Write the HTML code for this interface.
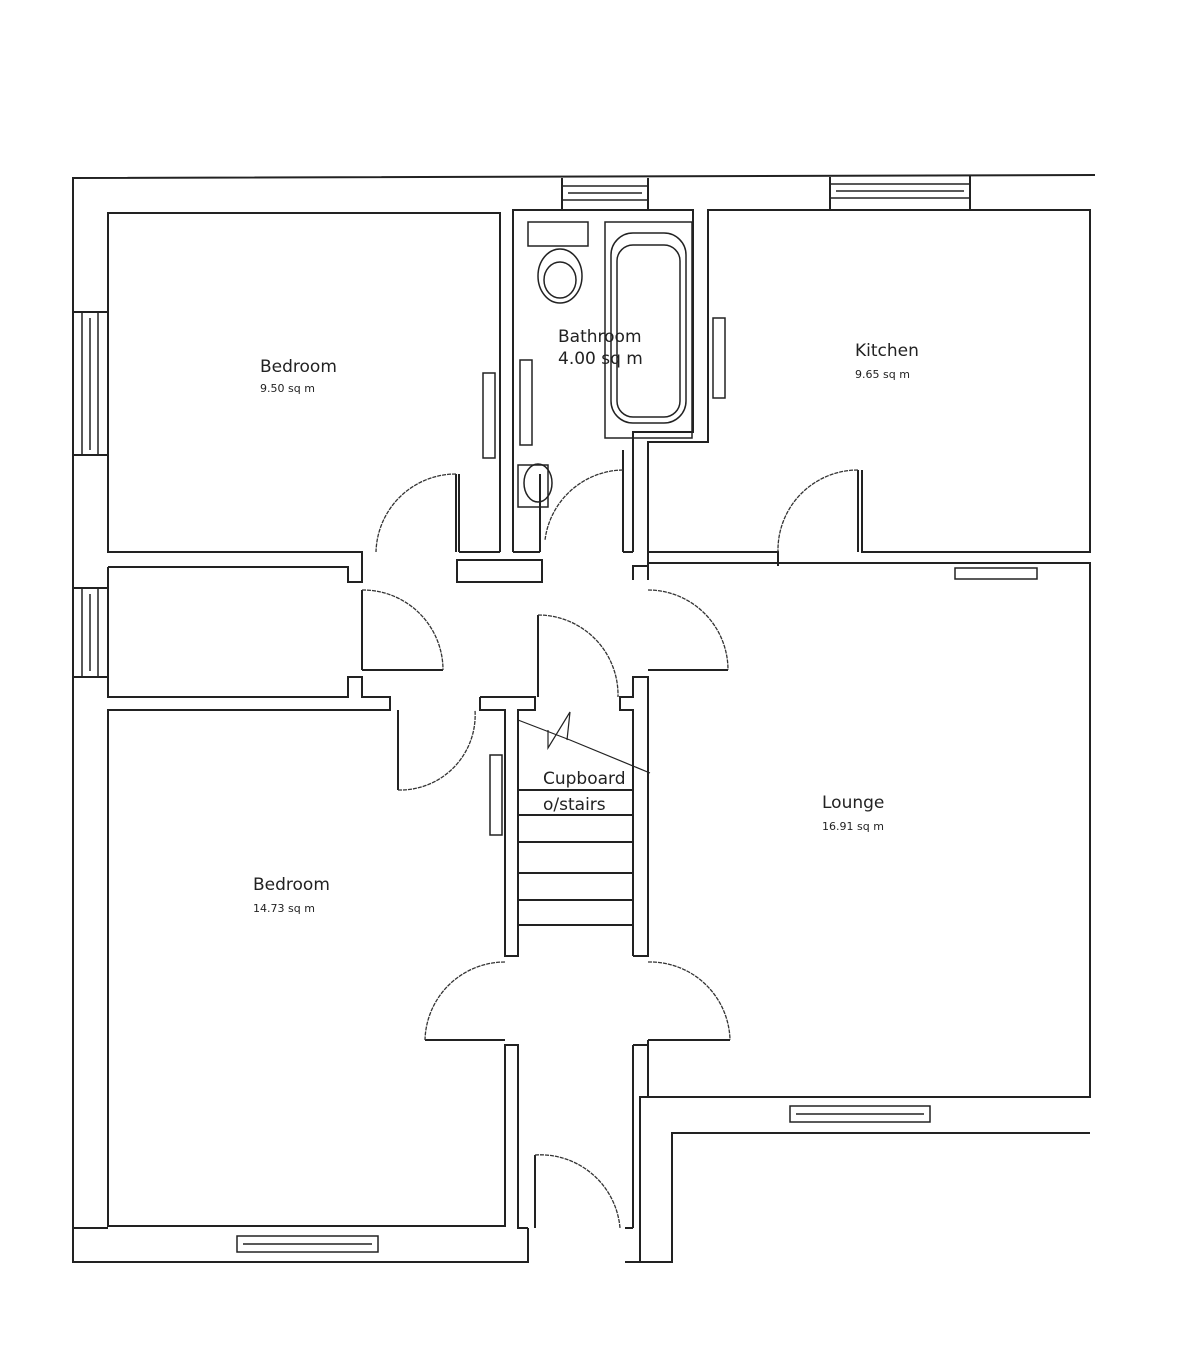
<!DOCTYPE html>
<html><head><style>
html,body{margin:0;padding:0;background:#fff;}
svg{display:block}
text{font-family:"DejaVu Sans","Liberation Sans",sans-serif;fill:#222}
</style></head><body>
<svg width="1200" height="1346" viewBox="0 0 1200 1346" xmlns="http://www.w3.org/2000/svg">
<g fill="none" stroke="#222" stroke-width="2">
<!-- outer walls -->
<polyline points="1095,175 73,178 73,1262 528,1262 528,1228"/>
<polyline points="625,1262 672,1262 672,1133 1090,1133"/>
<line x1="562" y1="178" x2="562" y2="210"/><line x1="648" y1="178" x2="648" y2="210"/>
<line x1="830" y1="177" x2="830" y2="210"/><line x1="970" y1="176" x2="970" y2="210"/>
<!-- bedroom 1 -->
<polyline points="500,552 500,213 108,213 108,552 362,552 362,567"/>
<line x1="459" y1="552" x2="500" y2="552"/>
<line x1="459" y1="474" x2="459" y2="552"/>
<!-- bathroom -->
<polyline points="513,552 513,210 693,210 693,432 633,432 633,552"/>
<line x1="513" y1="552" x2="540" y2="552"/>
<line x1="623" y1="552" x2="633" y2="552"/><line x1="623" y1="450" x2="623" y2="552"/>
<rect x="457" y="560" width="85" height="22"/>
<!-- kitchen -->
<polyline points="648,566 648,442 708,442 708,210 1090,210 1090,552 862,552 862,470"/>
<polyline points="778,566 778,552 648,552"/>
<polyline points="648,563 1090,563 1090,1097 648,1097 648,1040"/>
<!-- small left room -->
<polyline points="108,567 348,567 348,582 362,582 362,567"/>
<polyline points="108,567 108,697 348,697 348,677 362,677 362,697 390,697 390,710 108,710 108,1226 505,1226 505,1045 518,1045 518,1228 528,1228"/>
<line x1="108" y1="455" x2="73" y2="455"/><line x1="108" y1="312" x2="73" y2="312"/>
<line x1="108" y1="588" x2="73" y2="588"/><line x1="108" y1="677" x2="73" y2="677"/>
<line x1="73" y1="1228" x2="108" y2="1228"/>
<!-- stair core -->
<polyline points="480,697 480,710 505,710 505,956 518,956 518,710 535,710 535,697 480,697"/>
<polyline points="633,956 633,710 620,710 620,697 633,697 633,677 648,677 648,956 633,956"/>
<polyline points="633,580 633,566 648,566 648,580"/>
<line x1="518" y1="925" x2="633" y2="925"/>
<line x1="518" y1="900" x2="633" y2="900"/>
<line x1="518" y1="873" x2="633" y2="873"/>
<line x1="518" y1="842" x2="633" y2="842"/>
<line x1="518" y1="815" x2="633" y2="815"/>
<line x1="518" y1="790" x2="633" y2="790"/>
<polyline points="518,720 570,740 650,773" stroke-width="1.2"/>
<polyline points="548,730 548,748 570,712 567,740" stroke-width="1.2"/>
<!-- porch -->
<polyline points="633,1045 648,1045 648,1097 640,1097 640,1262"/>
<line x1="633" y1="1045" x2="633" y2="1228"/>
<line x1="625" y1="1228" x2="633" y2="1228"/>
<line x1="535" y1="1158" x2="535" y2="1228"/>
<!-- doors -->
<line x1="456" y1="474" x2="456" y2="552"/>
<line x1="540" y1="474" x2="540" y2="552"/>
<line x1="623" y1="470" x2="623" y2="552"/>
<line x1="858" y1="470" x2="858" y2="552"/>
<line x1="362" y1="590" x2="362" y2="670"/>
<line x1="362" y1="670" x2="443" y2="670"/>
<line x1="398" y1="710" x2="398" y2="790"/>
<line x1="538" y1="615" x2="538" y2="697"/>
<line x1="648" y1="670" x2="728" y2="670"/>
<line x1="425" y1="1040" x2="505" y2="1040"/>
<line x1="648" y1="1040" x2="730" y2="1040"/>
<line x1="535" y1="1155" x2="535" y2="1228"/>
</g>
<g fill="none" stroke="#333" stroke-width="1.3" stroke-dasharray="4,1">
<path d="M456,474 A80,80 0 0 0 376,552"/>
<path d="M623,470 A80,80 0 0 0 545,540"/>
<path d="M858,470 A80,80 0 0 0 778,552"/>
<path d="M362,590 A80,80 0 0 1 443,670"/>
<path d="M398,790 A75,75 0 0 0 475,710"/>
<path d="M538,615 A80,80 0 0 1 618,697"/>
<path d="M648,590 A80,80 0 0 1 728,670"/>
<path d="M505,962 A80,80 0 0 0 425,1040"/>
<path d="M648,962 A80,80 0 0 1 730,1040"/>
<path d="M535,1155 A80,80 0 0 1 620,1228"/>
</g>
<!-- windows -->
<g fill="none" stroke="#222" stroke-width="1.5">
<rect x="562" y="186" width="86" height="14"/><line x1="568" y1="193" x2="642" y2="193"/>
<rect x="830" y="184" width="140" height="14"/><line x1="836" y1="191" x2="964" y2="191"/>
<rect x="82" y="312" width="16" height="143"/><line x1="90" y1="318" x2="90" y2="450"/>
<rect x="82" y="588" width="16" height="89"/><line x1="90" y1="594" x2="90" y2="671"/>
<rect x="237" y="1236" width="141" height="16"/><line x1="243" y1="1244" x2="372" y2="1244"/>
<rect x="790" y="1106" width="140" height="16"/><line x1="796" y1="1114" x2="924" y2="1114"/>
<rect x="955" y="568" width="82" height="11"/>
<!-- radiators -->
<rect x="483" y="373" width="12" height="85"/>
<rect x="520" y="360" width="12" height="85"/>
<rect x="713" y="318" width="12" height="80"/>
<rect x="490" y="755" width="12" height="80"/>
<!-- bathroom fixtures -->
<rect x="528" y="222" width="60" height="24"/>
<ellipse cx="560" cy="276" rx="22" ry="27"/><ellipse cx="560" cy="280" rx="16" ry="18"/>
<rect x="605" y="222" width="87" height="216"/>
<rect x="611" y="233" width="75" height="190" rx="22"/>
<rect x="617" y="245" width="63" height="172" rx="16"/>
<rect x="518" y="465" width="30" height="42"/><ellipse cx="538" cy="483" rx="14" ry="19"/>
</g>
<text x="260" y="372" font-size="17">Bedroom</text>
<text x="260" y="392" font-size="11">9.50 sq m</text>
<text x="558" y="342" font-size="17">Bathroom</text>
<text x="558" y="364" font-size="17">4.00 sq m</text>
<text x="855" y="356" font-size="17">Kitchen</text>
<text x="855" y="378" font-size="11">9.65 sq m</text>
<text x="543" y="784" font-size="17">Cupboard</text>
<text x="543" y="810" font-size="17">o/stairs</text>
<text x="822" y="808" font-size="17">Lounge</text>
<text x="822" y="830" font-size="11">16.91 sq m</text>
<text x="253" y="890" font-size="17">Bedroom</text>
<text x="253" y="912" font-size="11">14.73 sq m</text>
</svg>
</body></html>
